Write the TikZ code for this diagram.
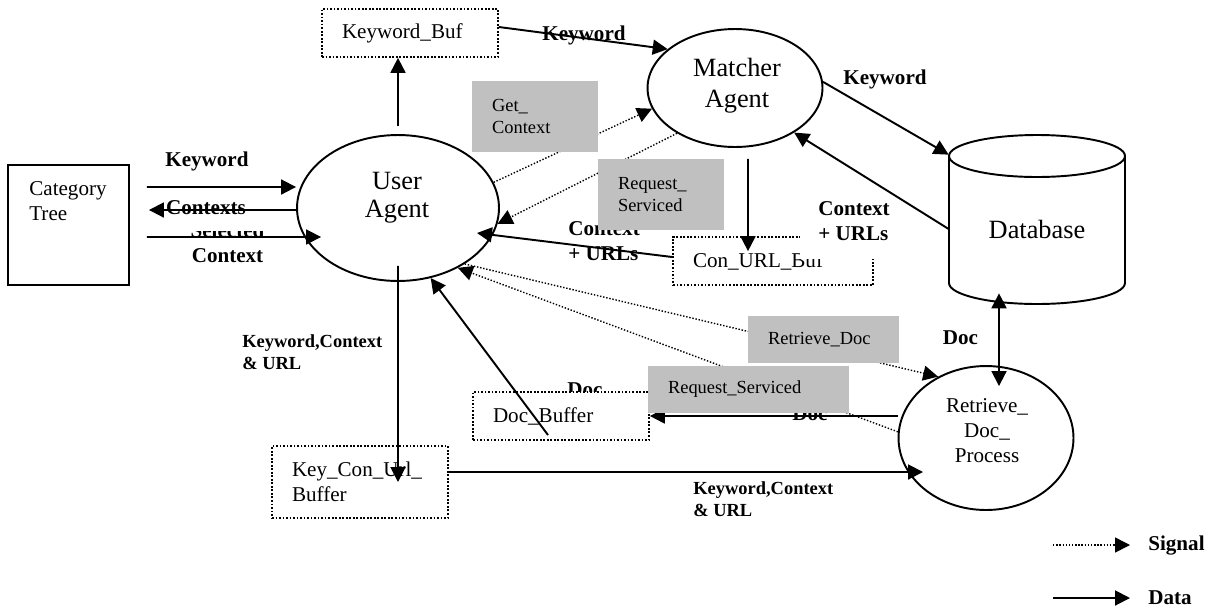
\documentclass[tikz,border=0pt]{standalone}
\usepackage{fontspec}
\setmainfont{Liberation Serif}
\usetikzlibrary{shapes.geometric,arrows.meta}
\definecolor{sigfill}{RGB}{192,192,192}
\tikzset{
  agent/.style={draw, ellipse, line width=1.1pt, inner sep=0pt},
  agenttxt/.style={align=center, inner sep=0pt, font=\fontsize{15}{16}\selectfont},
  buffer/.style={draw, fill=white, line width=1pt, dash pattern=on 1pt off 1pt, align=left, inner xsep=0.4cm, inner ysep=0pt, text width=2.72cm, minimum height=0.96cm, font=\fontsize{12}{14.2}\selectfont},
  sigbox/.style={fill=sigfill, align=left, inner xsep=0.4cm, inner ysep=0pt, font=\fontsize{10.5}{12.3}\selectfont},
  lbl/.style={inner sep=0pt, align=left, font=\bfseries\fontsize{12}{14.2}\selectfont},
  data/.style={line width=1.1pt, >={Triangle[length=8.5pt,width=8.5pt]}, ->},
  signal/.style={line width=0.8pt, densely dotted, >={Triangle[length=8.5pt,width=8.5pt]}, ->}
}
\begin{document}
\begin{tikzpicture}[x=0.02cm,y=-0.02cm]
\useasboundingbox (0,0) rectangle (1209,609);
\node[draw, line width=1.1pt, minimum width=2.42cm, minimum height=2.4cm] (cat) at (68.5,225) {};
\node[anchor=north west, inner sep=0pt, align=left, font=\fontsize{12}{14.2}\selectfont] (cattxt) at (29,181) {Category\\Tree};
\node[agent, minimum width=4.04cm, minimum height=2.92cm] (user) at (398,208) {};
\node[agenttxt] (usertxt) at (397,198) {User\\Agent};
\node[agent, minimum width=3.5cm, minimum height=2.36cm] (matcher) at (735,88) {};
\node[agenttxt, font=\fontsize{15}{17.6}\selectfont] (matchertxt) at (737,86) {Matcher\\Agent};
\node[agent, minimum width=3.5cm, minimum height=2.88cm] (retr) at (986,438) {};
\node[agenttxt, font=\fontsize{12}{14.2}\selectfont] (retrtxt) at (987,431) {Retrieve\_\\Doc\_\\Process};
\draw[line width=1.1pt] (1037,156) ellipse [x radius=1.76cm, y radius=0.42cm];
\draw[line width=1.1pt] (949,156) -- (949,283) arc [start angle=180, end angle=360, x radius=1.76cm, y radius=0.42cm] -- (1125,156);
\node[minimum width=3.52cm, minimum height=2.96cm, inner sep=0pt, font=\fontsize{15}{16}\selectfont] (db) at (1037,229) {Database};

\node[lbl] (doca) at (585,390) {Doc};
\node[buffer] (kbuf) at (410,33) {Keyword\_Buf};
\node[buffer, text width=3.2cm] (conbuf) at (773,261) {Con\_URL\_Buf};
\node[buffer] (docbuf) at (561,416) {Doc\_Buffer};
\node[buffer, minimum height=1.44cm] (keybuf) at (360,482) {Key\_Con\_Url\_\\Buffer};

\node[lbl, align=center, font=\bfseries\fontsize{12}{14.5}\selectfont] (selctx) at (227.5,243) {Selected\\Context};
\node[lbl, fill=white, inner xsep=0.4cm, inner ysep=0.32cm] (ctxs) at (206,208) {Contexts};
\node[lbl] (kwa) at (207,161) {Keyword};
\node[lbl] (kwb) at (584,35) {Keyword};
\node[lbl] (kwc) at (885,79) {Keyword};
\node[lbl, anchor=west] (cua) at (568,241.5) {Context\\+ URLs};
\node[lbl, fill=white, inner sep=0.36cm] (cub) at (854,221) {Context\\+ URLs};
\node[lbl] (docb) at (810,414) {Doc};
\node[lbl] (docc) at (960.5,338) {Doc};
\node[lbl, anchor=west, font=\bfseries\fontsize{10.5}{12.5}\selectfont] (kcua) at (242,352) {Keyword,Context\\\& URL};
\node[lbl, anchor=west, font=\bfseries\fontsize{10.5}{12.5}\selectfont] (kcub) at (693,499) {Keyword,Context\\\& URL};

\draw[data] ([shift={(0.34cm,0.76cm)}]cat.east) -- ([yshift=0.42cm]user.west);
\draw[data] ([yshift=-0.04cm]user.west) -- ([shift={(0.38cm,0.3cm)}]cat.east);
\draw[data] ([shift={(0.34cm,-0.24cm)}]cat.east) -- ([shift={(0.5cm,-0.58cm)}]user.west);
\draw[data] ([yshift=0.16cm]user.north) -- (kbuf.south -| user.north);
\draw[data] ([yshift=0.12cm]kbuf.east) -- (matcher.150);
\draw[data] (matcher.4) -- (db.north west);
\draw[data] (db.west) -- (matcher.-37);
\draw[data] ([shift={(0.26cm,-0.22cm)}]matcher.south) -- ([shift={(-0.5cm,-0.3cm)}]conbuf.north);
\draw[data] ([yshift=0.08cm]conbuf.west) -- ([shift={(1.58cm,-0.5cm)}]user.center);
\draw[data] (retr.west |- docbuf.east) -- (docbuf.east);
\draw[data] ([shift={(-0.26cm,-0.38cm)}]docbuf.center) -- (user.-65);
\draw[data] ([yshift=-1.16cm]user.center) -- ([xshift=0.76cm]keybuf.center);
\draw[data] ([yshift=0.2cm]keybuf.east) -- ([shift={(-1.26cm,-0.68cm)}]retr.center);
\draw[data, <->] ([shift={(-0.76cm,0.2cm)}]db.south) -- ([shift={(0.26cm,-0.42cm)}]retr.north);

\draw[signal] (user.15) -- (matcher.194);
\draw[signal] (matcher.218) -- (user.-9);
\draw[signal] (user.-40) -- (retr.128);
\draw[signal] (retr.176) -- (user.-45);

\node[sigbox, text width=1.72cm, minimum height=1.42cm] (getctx) at (535,116.5) {Get\_\\Context};
\node[sigbox, text width=1.72cm, minimum height=1.42cm] (reqa) at (661,194.5) {Request\_\\Serviced};
\node[sigbox, text width=2.22cm, minimum height=0.94cm] (retrdoc) at (823.5,339.5) {Retrieve\_Doc};
\node[sigbox, text width=3.22cm, minimum height=0.94cm] (reqb) at (748.5,389.5) {Request\_Serviced};

\node[lbl, anchor=west] (sigtxt) at (1148,545) {Signal};
\node[lbl, anchor=west] (datatxt) at (1148,598) {Data};
\coordinate (sigs) at (1053,545);
\coordinate (dats) at (1053,598);
\draw[signal] (sigs) -- ([xshift=-0.36cm]sigtxt.west);
\draw[data] (dats) -- ([xshift=-0.36cm]datatxt.west);
\end{tikzpicture}
\end{document}
